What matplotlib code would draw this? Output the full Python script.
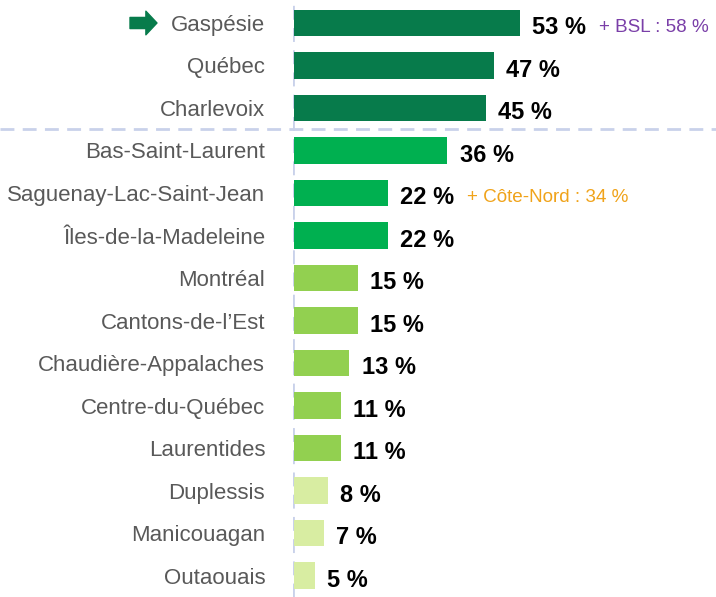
import matplotlib
matplotlib.use("Agg")
import matplotlib.pyplot as plt
import matplotlib.transforms as mtrans

plt.rcParams['font.family'] = ['Liberation Sans', 'DejaVu Sans']

regions = ['Gaspésie', 'Québec', 'Charlevoix', 'Bas-Saint-Laurent',
           'Saguenay-Lac-Saint-Jean', 'Îles-de-la-Madeleine', 'Montréal',
           'Cantons-de-l\u2019Est', 'Chaudière-Appalaches', 'Centre-du-Québec',
           'Laurentides', 'Duplessis', 'Manicouagan', 'Outaouais']
values = [53, 47, 45, 36, 22, 22, 15, 15, 13, 11, 11, 8, 7, 5]
tiers = [0, 0, 0, 1, 1, 1, 2, 2, 2, 2, 2, 3, 3, 3]
tier_colors = ['#077b4b', '#00b050', '#92d050', '#d8eda2']

# extra notes next to some bars
notes = {0: ('+ BSL : 58 %', '#7a3fa8'),
         4: ('+ Côte-Nord : 34 %', '#f0a31a')}

W, H = 716, 597
fig = plt.figure(figsize=(W / 100, H / 100), dpi=100)
fig.set_facecolor('w')

left_px = 293
px_per_pct = 4.26
row_h = 42.5
top_px = 23
ax = fig.add_axes([left_px / W, 0, 1 - left_px / W, 1])
ax.set_xlim(0, (W - left_px) / px_per_pct)
ax.set_ylim((H - top_px) / row_h, -top_px / row_h)

ypos = list(range(len(regions)))
ax.barh(ypos, values, height=0.63, left=0.25,
        color=[tier_colors[t] for t in tiers], zorder=3)

for y, v in zip(ypos, values):
    ax.annotate(f'{v} %', xy=(v, y), xytext=(9.5, -3.5), textcoords='offset points',
                ha='left', va='center', fontsize=17, fontweight='bold', color='black')

for y, (txt, col) in notes.items():
    ax.annotate(txt, xy=(values[y], y), xytext=(57.5, -3), textcoords='offset points',
                ha='left', va='center', fontsize=13.6, color=col)

ax.set_yticks(ypos)
ax.set_yticklabels(regions, fontsize=16, color='#595959')
ax.tick_params(axis='y', length=0, pad=20)
ax.set_xticks([])
for s in ax.spines.values():
    s.set_visible(False)

guide = '#c9d1ea'
ax.axvline(0, color=guide, lw=2, ls=(0, (5, 3)), zorder=1)

# separator between the top three and the rest, across the whole figure
blend = mtrans.blended_transform_factory(fig.transFigure, ax.transData)
ax.plot([0, 1], [2.5, 2.5], transform=blend, color=guide, lw=2,
        ls=(0, (5, 3)), clip_on=False, zorder=1)

# arrow pointing at Gaspésie
ax.annotate('', xy=(157, 0), xytext=(130, 0),
            xycoords=('figure pixels', 'data'), textcoords=('figure pixels', 'data'),
            arrowprops=dict(arrowstyle='simple,head_length=8,head_width=17,tail_width=8',
                            mutation_scale=1, color=tier_colors[0],
                            shrinkA=0, shrinkB=0))

plt.savefig('out.png', dpi=100)
